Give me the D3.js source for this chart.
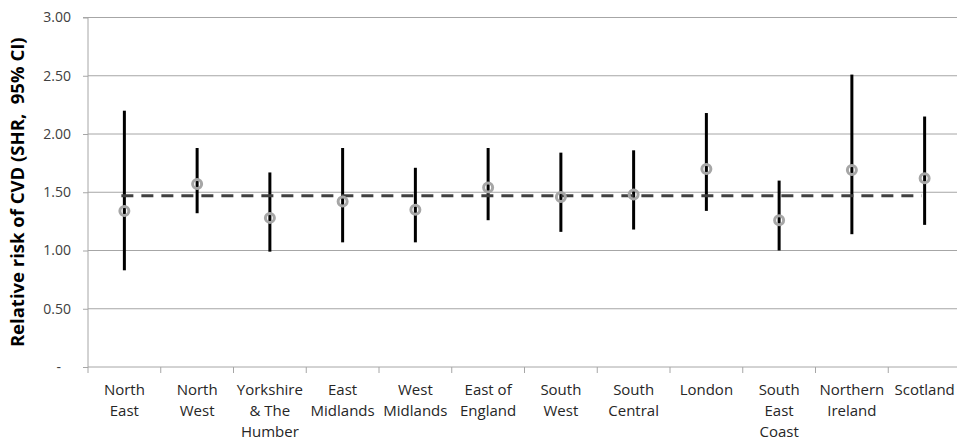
<!DOCTYPE html>
<html lang="en">
<head>
    <meta charset="UTF-8" />
    <script src="https://d3js.org/d3.v7.min.js"></script>
    <title>Relative risk of CVD by region</title>
    <style>
        body { margin: 0; background: #fff; }
        .grid line { stroke: #a6a6a6; stroke-width: 1; }
        .axis text { font-family: "Open Sans", sans-serif; font-size: 14px; fill: #262626; }
        .axis path, .axis line { stroke: #a6a6a6; }
        .xlab { font-size: 15px !important; }
        .title { font-family: "Open Sans", sans-serif; font-weight: bold; font-size: 18.5px; fill: #000; white-space: pre; }
    </style>
</head>
<body>
    <svg id="chart" width="957" height="440"></svg>
    <script>
        // regions (labels split into lines)
        const regions = [
            ["North", "East"], ["North", "West"], ["Yorkshire", "& The", "Humber"],
            ["East", "Midlands"], ["West", "Midlands"], ["East of", "England"],
            ["South", "West"], ["South", "Central"], ["London"],
            ["South", "East", "Coast"], ["Northern", "Ireland"], ["Scotland"]
        ];
        const shr   = [1.34, 1.57, 1.28, 1.42, 1.35, 1.54, 1.46, 1.48, 1.70, 1.26, 1.69, 1.62];
        const lower = [0.83, 1.32, 0.99, 1.07, 1.07, 1.26, 1.16, 1.18, 1.34, 1.00, 1.14, 1.22];
        const upper = [2.20, 1.88, 1.67, 1.88, 1.71, 1.88, 1.84, 1.86, 2.18, 1.60, 2.51, 2.15];
        const overall = 1.47;
        const yTicks = [0, 0.5, 1, 1.5, 2, 2.5, 3];

        const svg = d3.select("#chart");
        const margin = { left: 88, top: 17.5, right: -4, bottom: 73 };
        const width = 957 - margin.left - margin.right;
        const height = 440 - margin.top - margin.bottom;
        const g = svg.append("g").attr("transform", `translate(${margin.left},${margin.top})`);

        const x = d3.scaleBand().domain(d3.range(regions.length)).range([0, width]);
        const y = d3.scaleLinear().domain([0, 3]).range([height, 0]);

        // gridlines
        g.append("g").attr("class", "grid")
            .selectAll("line").data(yTicks.filter(d => d > 0)).join("line")
            .attr("x1", 0).attr("x2", width)
            .attr("y1", d => y(d)).attr("y2", d => y(d));

        // y axis
        const yAxis = g.append("g").attr("class", "axis")
            .call(d3.axisLeft(y).tickValues(yTicks).tickSize(5).tickPadding(12)
                .tickFormat(d => d === 0 ? "-" : d3.format(".2f")(d)));
        yAxis.selectAll("text").style("fill", "#404040");
        yAxis.select(".domain").attr("d", `M-5,${y(3)}H0V${height}`);
        yAxis.selectAll("text").filter(d => d === 0).attr("dx", -10);

        // x axis line + ticks at band edges
        const xa = g.append("g").attr("class", "axis").attr("transform", `translate(0,${height})`);
        xa.append("line").attr("x1", 0).attr("x2", width).attr("y1", 0).attr("y2", 0);
        xa.selectAll("line.tick").data(d3.range(regions.length + 1)).join("line")
            .attr("class", "tick")
            .attr("x1", i => i * x.bandwidth()).attr("x2", i => i * x.bandwidth())
            .attr("y1", 0).attr("y2", 6);
        xa.selectAll("text").data(regions).join("text")
            .attr("class", "xlab")
            .attr("x", (d, i) => x(i) + x.bandwidth() / 2)
            .attr("y", 28)
            .attr("text-anchor", "middle")
            .selectAll("tspan").data(d => d).join("tspan")
            .attr("x", function () { return d3.select(this.parentNode).attr("x"); })
            .attr("dy", (d, i) => i === 0 ? 0 : 21)
            .text(d => d);

        // y title
        svg.append("text").attr("class", "title")
            .attr("transform", `translate(24,${margin.top + height / 2}) rotate(-90)`)
            .attr("text-anchor", "middle")
            .text("Relative risk of CVD (SHR,  95% CI)");

        const cx = i => x(i) + x.bandwidth() / 2;

        // error bars
        g.selectAll("line.ci").data(shr).join("line")
            .attr("class", "ci")
            .attr("x1", (d, i) => cx(i)).attr("x2", (d, i) => cx(i))
            .attr("y1", (d, i) => y(lower[i])).attr("y2", (d, i) => y(upper[i]))
            .attr("stroke", "#000").attr("stroke-width", 3);

        // overall reference line
        g.append("line")
            .attr("x1", cx(0) - 3).attr("x2", cx(regions.length - 1) - 3)
            .attr("y1", y(overall)).attr("y2", y(overall))
            .attr("stroke", "#404040").attr("stroke-width", 3)
            .attr("stroke-dasharray", "12,8");

        // point estimates
        g.selectAll("circle.pt").data(shr).join("circle")
            .attr("class", "pt")
            .attr("cx", (d, i) => cx(i)).attr("cy", d => y(d))
            .attr("r", 4.5)
            .attr("fill", "none")
            .attr("stroke", "#a6a6a6").attr("stroke-width", 3);
    </script>
</body>
</html>
